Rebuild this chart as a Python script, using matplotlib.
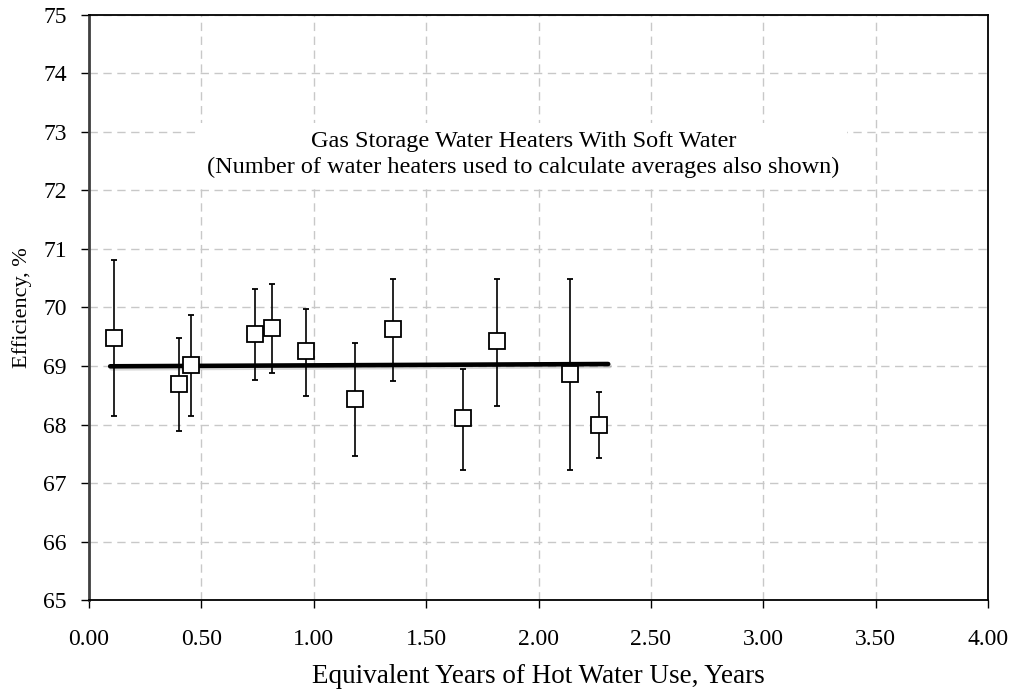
import numpy as np
from matplotlib import pyplot as plt
import matplotlib.patheffects as pe

# Средние значения КПД и границы разброса
years = [0.11, 0.40, 0.455, 0.737, 0.816, 0.964, 1.182, 1.351, 1.663, 1.816, 2.14, 2.267]
eff = [69.48, 68.70, 69.02, 69.55, 69.655, 69.26, 68.44, 69.63, 68.11, 69.42, 68.87, 68.00]
eff_hi = [70.81, 69.48, 69.88, 70.31, 70.41, 69.97, 69.39, 70.49, 68.95, 70.49, 70.49, 68.56]
eff_lo = [68.145, 67.89, 68.145, 68.755, 68.875, 68.49, 67.47, 68.74, 67.23, 68.32, 67.23, 67.43]

# Линия тренда
trend_x = [0.094, 2.31]
trend_y = [68.995, 69.034]

x_ticks = [0.0, 0.5, 1.0, 1.5, 2.0, 2.5, 3.0, 3.5, 4.0]
y_ticks = [65, 66, 67, 68, 69, 70, 71, 72, 73, 74, 75]

plt.rcParams['font.family'] = ['Liberation Serif', 'DejaVu Serif']

fig = plt.figure(figsize=(10.13, 6.9), dpi=100)
ax = fig.add_axes([0.0879, 0.1304, 0.8874, 0.8479])

eff = np.array(eff)
yerr = [eff - np.array(eff_lo), np.array(eff_hi) - eff]

ax.plot(trend_x, trend_y, color='black', lw=3.3, solid_capstyle='round', zorder=3,
        path_effects=[pe.SimpleLineShadow(offset=(1, -1.5), alpha=0.15), pe.Normal()])
ax.errorbar(years, eff, yerr=yerr, fmt='s', ms=11, mfc='white', mec='black', mew=1.3,
            ecolor='black', elinewidth=1.2, capsize=2.5, capthick=1.2, zorder=4)

ax.set_xlim(0, 4)
ax.set_ylim(65, 75)
ax.set_xticks(x_ticks)
ax.set_xticklabels(['%.2f' % v for v in x_ticks])
ax.set_yticks(y_ticks)
ax.tick_params(direction='out', length=6, width=1, labelsize=17)
ax.tick_params(axis='y', pad=10)
ax.tick_params(axis='x', pad=15)
ax.grid(True, ls=(0, (6, 4)), color='#c8c8c8', lw=1, zorder=0)
ax.set_axisbelow(True)

for s in ['top', 'right', 'bottom']:
    ax.spines[s].set_linewidth(1.3)
ax.spines['left'].set_linewidth(2)
ax.spines['left'].set_color('#404040')

ax.text(1.934, 72.62, 'Gas Storage Water Heaters With Soft Water\n'
        '(Number of water heaters used to calculate averages also shown)',
        ha='center', va='center', fontsize=17.5, linespacing=1.3, zorder=5,
        bbox=dict(boxstyle='square,pad=0.3', fc='white', ec='none'))

ax.set_xlabel('Equivalent Years of Hot Water Use, Years', fontsize=19.5, labelpad=10)
ax.set_ylabel('Efficiency, %', fontsize=16, labelpad=8)

fig.savefig('out.png', dpi=100)
